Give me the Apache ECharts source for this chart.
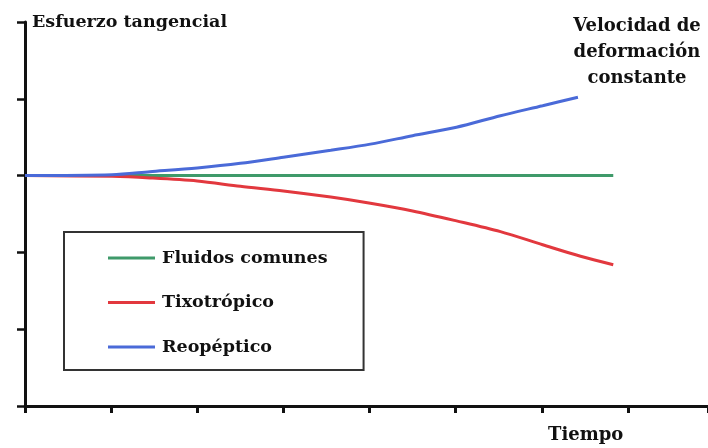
<!DOCTYPE html>
<html><head><meta charset="utf-8">
<script src="https://cdn.jsdelivr.net/npm/echarts@6/dist/echarts.min.js"></script>
<style>html,body{margin:0;padding:0;background:#fff}#c{width:708px;height:448px}</style>
</head><body><div id="c"></div>
<script>
// Data (x = time units, y = shear stress units)
const seriesNames = ['Fluidos comunes', 'Tixotrópico', 'Reopéptico'];
const fluidosX = [0, 6.83];
const fluidosY = [3.0, 3.0];
const tixoX = [0, 1.01, 1.45, 2.0, 2.5, 3.0, 3.55, 4.01, 4.5, 5.01, 5.52, 6.01, 6.45, 6.83];
const tixoY = [3.0, 2.99, 2.97, 2.93, 2.86, 2.80, 2.72, 2.64, 2.54, 2.41, 2.27, 2.10, 1.95, 1.84];
const reoX = [0, 1.01, 1.45, 2.0, 2.5, 3.0, 3.55, 4.01, 4.5, 5.01, 5.52, 6.01, 6.42];
const reoY = [3.0, 3.01, 3.05, 3.10, 3.16, 3.24, 3.33, 3.41, 3.52, 3.63, 3.78, 3.91, 4.02];
const yAxisTitle = 'Esfuerzo tangencial';
const xAxisTitle = 'Tiempo';
const noteLines = ['Velocidad de', 'deformación', 'constante'];

const zip = (xs, ys) => xs.map((x, i) => [x, ys[i]]);
const colors = ['#3f9a6a', '#e2383e', '#4a6ad8'];
const font = '"DejaVu Serif", "Liberation Serif", serif';

const chart = echarts.init(document.getElementById('c'), null, {renderer: 'canvas'});
const lineSeries = (name, data, color) => ({
  name, type: 'line', data, symbol: 'none', smooth: 0.3,
  lineStyle: {color, width: 3}, itemStyle: {color}, animation: false
});
chart.setOption({
  backgroundColor: '#fff',
  animation: false,
  grid: {left: 25, right: 0, top: 22, bottom: 42},
  xAxis: {
    type: 'value', min: 0, max: 7.93, interval: 1,
    axisLine: {show: true, onZero: false, lineStyle: {color: '#111', width: 3}},
    axisTick: {show: true, length: 7, lineStyle: {color: '#111', width: 3}},
    axisLabel: {show: false}, splitLine: {show: false}
  },
  yAxis: {
    type: 'value', min: 0, max: 5, interval: 1,
    axisLine: {show: true, onZero: false, lineStyle: {color: '#111', width: 3}},
    axisTick: {show: true, length: 8, lineStyle: {color: '#111', width: 2.5}},
    axisLabel: {show: false}, splitLine: {show: false}
  },
  legend: {
    orient: 'vertical', left: 64, top: 232,
    data: seriesNames,
    icon: 'rect',
    itemWidth: 47, itemHeight: 3, itemGap: 26.5,
    padding: [17, 36, 14, 44],
    borderColor: '#333', borderWidth: 2,
    textStyle: {fontFamily: font, fontWeight: 'bold', fontSize: 17.5, color: '#111', padding: [0, 0, 0, 2]}
  },
  series: [
    lineSeries(seriesNames[0], zip(fluidosX, fluidosY), colors[0]),
    lineSeries(seriesNames[1], zip(tixoX, tixoY), colors[1]),
    lineSeries(seriesNames[2], zip(reoX, reoY), colors[2])
  ],
  graphic: [
    {type: 'text', left: 32, top: 13, style: {text: yAxisTitle, font: 'bold 17.5px ' + font, fill: '#111'}},
    {type: 'text', left: 548, top: 426, style: {text: xAxisTitle, font: 'bold 18px ' + font, fill: '#111'}},
    {type: 'text', x: 637, y: 13, style: {text: noteLines.join('\n'), font: 'bold 18px ' + font, fill: '#111', align: 'center', lineHeight: 26}}
  ]
});
</script></body></html>
